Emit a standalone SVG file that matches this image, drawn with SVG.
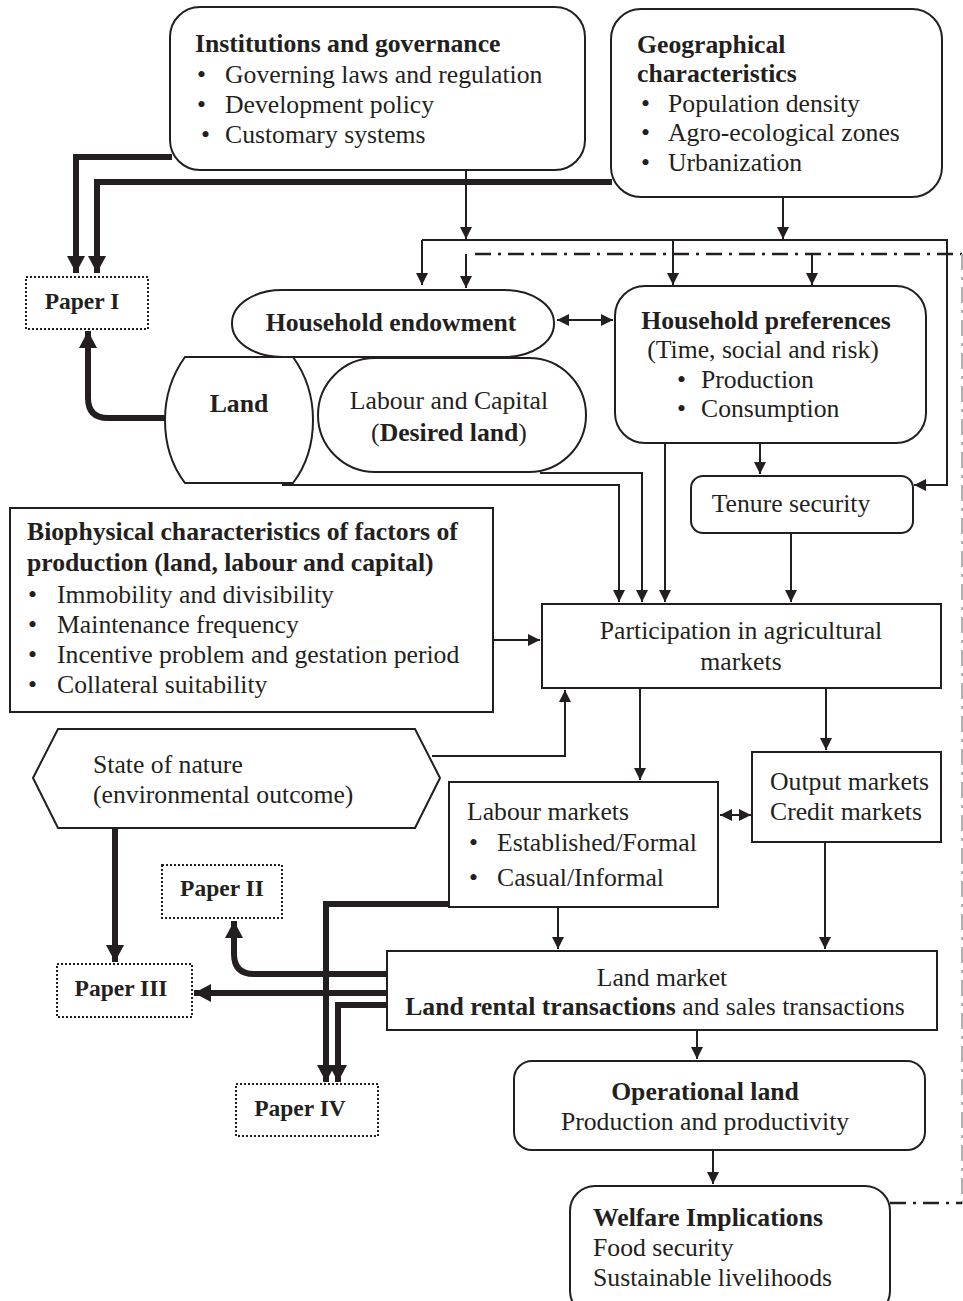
<svg xmlns="http://www.w3.org/2000/svg" width="963" height="1301" viewBox="0 0 963 1301">
<defs>
<marker id="a" markerUnits="userSpaceOnUse" markerWidth="12" markerHeight="12" refX="12" refY="6" orient="auto-start-reverse"><path d="M0,0 L12,6 L0,12 z" fill="#231f20"/></marker>
<marker id="A" markerUnits="userSpaceOnUse" markerWidth="18" markerHeight="18" refX="17" refY="9" orient="auto-start-reverse"><path d="M0,0 L17,9 L0,18 z" fill="#231f20"/></marker>
</defs>
<style>
.b{fill:#fff;stroke:#231f20;stroke-width:2}
.p{fill:#fff;stroke:#231f20;stroke-width:2;stroke-dasharray:2 2}
text{font-family:"Liberation Serif","Times New Roman",serif;font-size:25.7px;fill:#231f20}
.bd{font-weight:bold}
.c{text-anchor:middle}
.pp{font-size:23.5px;font-weight:bold}
.t{fill:none;stroke:#231f20;stroke-width:2}
.k{fill:none;stroke:#231f20;stroke-width:6}
.dd{fill:none;stroke:#231f20;stroke-width:2.5;stroke-dasharray:16 7 3 7}
.gd{fill:none;stroke:#b0b0b0;stroke-width:2;stroke-dasharray:16 7 3 7}
</style>
<g id="connectors">
<path class="k" d="M172,157 H76 V273" marker-end="url(#A)"/>
<path class="k" d="M612,182 H97 V273" marker-end="url(#A)"/>
<path class="k" d="M166,418 H108 Q88,418 88,398 V331" marker-end="url(#A)"/>
<path class="t" d="M466,170 V239" marker-end="url(#a)"/>
<path class="t" d="M783,197 V239" marker-end="url(#a)"/>
<path class="t" d="M422,240 V285" marker-end="url(#a)"/>
<path class="t" d="M422,240 H947 V485 H914" marker-end="url(#a)"/>
<path class="t" d="M673,240 V285" marker-end="url(#a)"/>
<path class="t" d="M466,254 V288" marker-end="url(#a)"/>
<path class="dd" d="M475,254 H962"/>
<path class="t" d="M812,254 V285" marker-end="url(#a)"/>
<path class="gd" d="M962,254 V1205"/>
<path class="dd" d="M890,1203 H962"/>
<path class="t" d="M557,320 H613" marker-start="url(#a)" marker-end="url(#a)"/>
<path class="t" d="M760,443 V474" marker-end="url(#a)"/>
<path class="t" d="M791,533 V602" marker-end="url(#a)"/>
<path class="t" d="M665,443 V602" marker-end="url(#a)"/>
<path class="t" d="M540,473 H642 V602" marker-end="url(#a)"/>
<path class="t" d="M282,485 H619 V602" marker-end="url(#a)"/>
<path class="t" d="M494,640 H540" marker-end="url(#a)"/>
<path class="t" d="M432,756 H565 V690" marker-end="url(#a)"/>
<path class="t" d="M640,688 V780" marker-end="url(#a)"/>
<path class="t" d="M826,688 V750" marker-end="url(#a)"/>
<path class="t" d="M720,815 H751" marker-start="url(#a)" marker-end="url(#a)"/>
<path class="t" d="M558,907 V949" marker-end="url(#a)"/>
<path class="t" d="M825,842 V949" marker-end="url(#a)"/>
<path class="t" d="M697,1030 V1059" marker-end="url(#a)"/>
<path class="t" d="M713,1150 V1184" marker-end="url(#a)"/>
<path class="k" d="M115,828 V962" marker-end="url(#A)"/>
<path class="k" d="M387,974 H254 Q234,974 234,954 V921" marker-end="url(#A)"/>
<path class="k" d="M387,993 H194" marker-end="url(#A)"/>
<path class="k" d="M450,904 H326 V1082" marker-end="url(#A)"/>
<path class="k" d="M387,1005 H338 V1082" marker-end="url(#A)"/>
</g>
<g id="institutions">
<rect class="b" x="170" y="7" width="415" height="163" rx="30"/>
<text class="bd" x="195" y="52">Institutions and governance</text>
<text x="197" y="83">•</text><text x="225" y="83">Governing laws and regulation</text>
<text x="197" y="113">•</text><text x="225" y="113">Development policy</text>
<text x="201" y="143">•</text><text x="225" y="143">Customary systems</text>
</g>
<g id="geographical">
<rect class="b" x="611" y="9" width="331" height="188" rx="30"/>
<text class="bd" x="637" y="53">Geographical</text>
<text class="bd" x="637" y="82">characteristics</text>
<text x="641" y="112">•</text><text x="668" y="112">Population density</text>
<text x="641" y="141">•</text><text x="668" y="141">Agro-ecological zones</text>
<text x="641" y="171">•</text><text x="668" y="171">Urbanization</text>
</g>
<g id="paper1">
<rect class="p" x="26" y="277" width="122" height="52"/>
<text class="pp c" x="82" y="309">Paper I</text>
</g>
<g id="endowment">
<rect class="b" x="232" y="290" width="322" height="67" rx="50" ry="33"/>
<text class="bd c" x="391" y="331">Household endowment</text>
</g>
<g id="land">
<path class="b" d="M185,357 L293,357 C306,375 313,398 313,420 C313,444 306,466 293,483 L185,483 C172,466 165,444 165,420 C165,398 172,375 185,357 Z"/>
<text class="bd c" x="239" y="412">Land</text>
</g>
<g id="labour-capital">
<rect class="b" x="318" y="358" width="268" height="114" rx="57"/>
<text class="c" x="449" y="409">Labour and Capital</text>
<text class="c" x="449" y="441">(<tspan class="bd">Desired land</tspan>)</text>
</g>
<g id="preferences">
<rect class="b" x="615" y="286" width="311" height="157" rx="30"/>
<text class="bd c" x="766" y="329">Household preferences</text>
<text class="c" x="763" y="358">(Time, social and risk)</text>
<text x="677" y="388">•</text><text x="701" y="388">Production</text>
<text x="677" y="417">•</text><text x="701" y="417">Consumption</text>
</g>
<g id="tenure">
<rect class="b" x="691" y="476" width="222" height="57" rx="12"/>
<text class="c" x="791" y="512">Tenure security</text>
</g>
<g id="biophysical">
<rect class="b" x="10" y="508" width="483" height="204"/>
<text class="bd" x="27" y="540">Biophysical characteristics of factors of</text>
<text class="bd" x="27" y="571">production (land, labour and capital)</text>
<text x="28" y="603">•</text><text x="57" y="603">Immobility and divisibility</text>
<text x="28" y="633">•</text><text x="57" y="633">Maintenance frequency</text>
<text x="28" y="663">•</text><text x="57" y="663">Incentive problem and gestation period</text>
<text x="28" y="693">•</text><text x="57" y="693">Collateral suitability</text>
</g>
<g id="participation">
<rect class="b" x="542" y="604" width="399" height="84"/>
<text class="c" x="741" y="639">Participation in agricultural</text>
<text class="c" x="741" y="670">markets</text>
</g>
<g id="state-of-nature">
<path class="b" d="M33,778 L58,729 L415,729 L440,778 L415,828 L58,828 Z"/>
<text x="93" y="773">State of nature</text>
<text x="93" y="803">(environmental outcome)</text>
</g>
<g id="labour-markets">
<rect class="b" x="449" y="782" width="269" height="125"/>
<text x="467" y="820">Labour markets</text>
<text x="469" y="851">•</text><text x="497" y="851">Established/Formal</text>
<text x="469" y="886">•</text><text x="497" y="886">Casual/Informal</text>
</g>
<g id="output-markets">
<rect class="b" x="752" y="752" width="189" height="90"/>
<text x="770" y="790">Output markets</text>
<text x="770" y="820">Credit markets</text>
</g>
<g id="paper2">
<rect class="p" x="162" y="865" width="120" height="53"/>
<text class="pp c" x="222" y="896">Paper II</text>
</g>
<g id="paper3">
<rect class="p" x="57" y="964" width="135" height="53"/>
<text class="pp c" x="121" y="996">Paper III</text>
</g>
<g id="paper4">
<rect class="p" x="236" y="1084" width="142" height="52"/>
<text class="pp c" x="300" y="1116">Paper IV</text>
</g>
<g id="land-market">
<rect class="b" x="387" y="951" width="550" height="79"/>
<text class="c" x="662" y="986">Land market</text>
<text class="c" x="655" y="1015"><tspan class="bd">Land rental transactions</tspan> and sales transactions</text>
</g>
<g id="operational-land">
<rect class="b" x="514" y="1061" width="411" height="89" rx="18"/>
<text class="bd c" x="705" y="1100">Operational land</text>
<text class="c" x="705" y="1130">Production and productivity</text>
</g>
<g id="welfare">
<rect class="b" x="570" y="1186" width="320" height="130" rx="25"/>
<text class="bd" x="593" y="1226">Welfare Implications</text>
<text x="593" y="1256">Food security</text>
<text x="593" y="1286">Sustainable livelihoods</text>
</g>
</svg>
